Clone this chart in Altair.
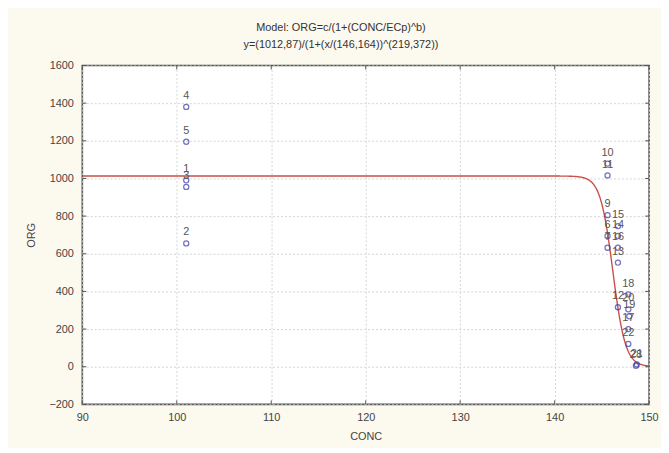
import altair as alt
import pandas as pd

title_lines = ["Model: ORG=c/(1+(CONC/ECp)^b)",
               "y=(1012,87)/(1+(x/(146,164))^(219,372))"]

# observed points
conc = [101.0, 101.0, 101.0, 101.0, 101.0,
        145.6, 145.6, 145.6, 146.7, 145.6, 146.7, 145.6, 146.7, 146.7,
        147.8, 146.7, 147.8, 147.9, 147.8, 147.8, 148.7, 148.6]
org = [990, 655, 955, 1380, 1195,
       1079, 1016, 805, 747, 695, 695, 632, 632, 553,
       384, 316, 305, 268, 200, 121, 12, 5]
labels = ["1", "2", "3", "4", "5",
          "10", "11", "9", "15", "6", "14", "7", "16", "13",
          "18", "12", "20", "19", "17", "22", "21", "28"]

# fitted model parameters (from the title)
c_param = 1012.87
ecp_param = 146.164
b_param = 219.372

x_ticks = [90, 100, 110, 120, 130, 140, 150]
y_ticks = [-200, 0, 200, 400, 600, 800, 1000, 1200, 1400, 1600]

W, H = 572, 342
FONT = "Liberation Sans"

df = pd.DataFrame({"CONC": conc, "ORG": org, "label": labels})

xs = alt.Scale(domain=[90, 150], nice=False, zero=False)
ys = alt.Scale(domain=[-200, 1600], nice=False, zero=False)

x_axis = alt.Axis(values=x_ticks, title="CONC", grid=True, ticks=False, format="d",
                  labelOverlap=False, labelFlush=False, tickCount=7,
                  labelPadding=7, titlePadding=8, domain=False)
y_axis = alt.Axis(values=y_ticks, title="ORG", grid=True, ticks=False, format="d",
                  labelOverlap=False, labelFlush=False, tickCount=10,
                  labelPadding=9, titlePadding=12, domain=False)

curve = alt.Chart(alt.sequence(90, 150.01, 0.05, as_="x")).transform_calculate(
    y=f"{c_param}/(1+pow(datum.x/{ecp_param}, {b_param}))"
).mark_line(color="#C8504A", strokeWidth=1.4, clip=True).encode(
    x=alt.X("x:Q", scale=xs, axis=x_axis),
    y=alt.Y("y:Q", scale=ys, axis=y_axis),
)

pts = alt.Chart(df).mark_point(shape="circle", filled=False, color="#3A3AA8",
                               size=26, strokeWidth=1.3).encode(
    x=alt.X("CONC:Q", scale=xs, axis=x_axis),
    y=alt.Y("ORG:Q", scale=ys, axis=y_axis),
)

txt = alt.Chart(df).mark_text(dy=-11, fontSize=11, font=FONT, color="#555555").encode(
    x=alt.X("CONC:Q", scale=xs, axis=x_axis),
    y=alt.Y("ORG:Q", scale=ys, axis=y_axis),
    text="label:N",
)

xt = pd.DataFrame({"v": x_ticks})
yt = pd.DataFrame({"v": y_ticks})
xtick_b = alt.Chart(xt).mark_rule(color="#555555").encode(
    x=alt.X("v:Q", scale=xs, axis=x_axis), y=alt.value(H), y2=alt.value(H - 4))
xtick_t = alt.Chart(xt).mark_rule(color="#555555").encode(
    x=alt.X("v:Q", scale=xs, axis=x_axis), y=alt.value(0), y2=alt.value(4))
ytick_l = alt.Chart(yt).mark_rule(color="#555555").encode(
    y=alt.Y("v:Q", scale=ys, axis=y_axis), x=alt.value(0), x2=alt.value(4))
ytick_r = alt.Chart(yt).mark_rule(color="#555555").encode(
    y=alt.Y("v:Q", scale=ys, axis=y_axis), x=alt.value(W), x2=alt.value(W - 4))

chart = alt.layer(curve, pts, txt, xtick_b, xtick_t, ytick_l, ytick_r).properties(
    width=W, height=H,
    title=alt.TitleParams(text=title_lines, fontSize=11, font=FONT, fontWeight="normal",
                          color="#333333", anchor="middle", dx=-25, offset=10, lineHeight=17),
    autosize=alt.AutoSizeParams(type="none"),
    padding={"left": 75, "top": 56, "right": 12, "bottom": 42},
    background="#FCF9EF",
).configure_view(
    fill="white", stroke="#555555", strokeWidth=1.6
).configure_axis(
    labelFont=FONT, titleFont=FONT, labelFontSize=11, titleFontSize=11,
    labelColor="#444444", titleColor="#444444", titleFontWeight="normal",
    gridColor="#D4D4D4", gridDash=[2, 2], gridWidth=1,
)

chart.save("out.html", embed_options={"renderer": "svg", "actions": False})
